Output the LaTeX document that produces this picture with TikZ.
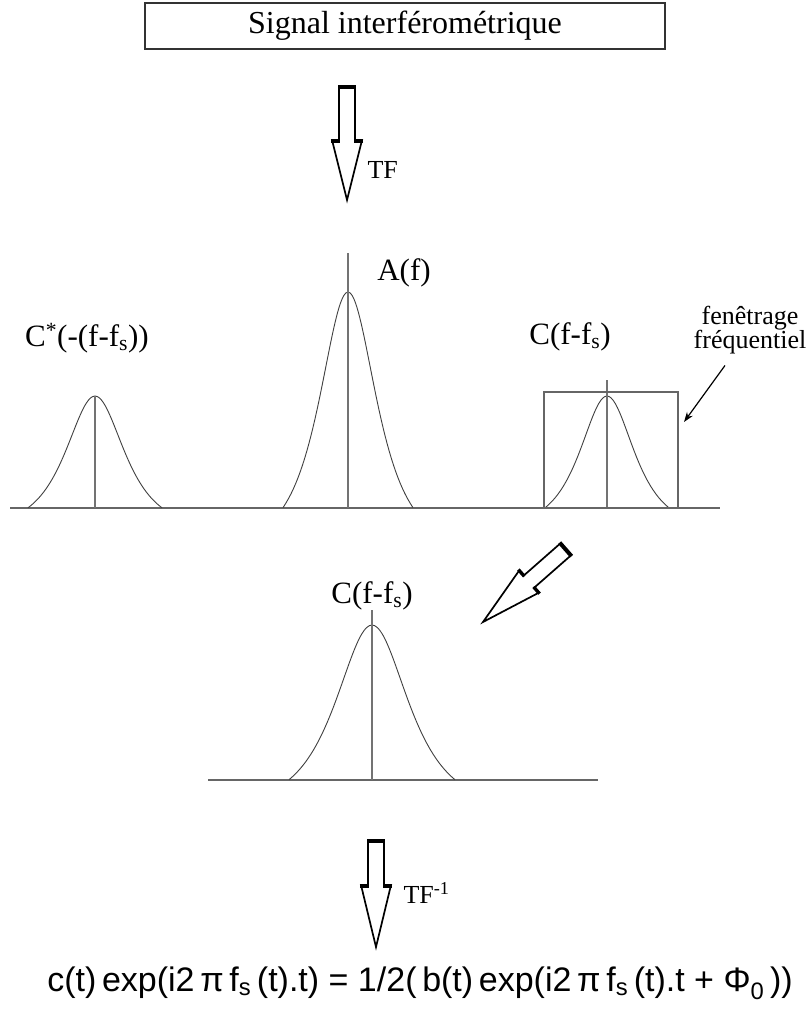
\documentclass[tikz,border=0pt]{standalone}
\usepackage{fontspec}
\setmainfont{Liberation Serif}
\newfontfamily\eqfont{Liberation Sans}
\usetikzlibrary{arrows.meta}

% one spectral line: centre, base, height, half width, top of the stem
\newcommand{\drawpeak}[5]{
    \draw[curve, shift={(#1,#2)}] plot[domain=-#4:#4, samples=61, smooth]
        (\x, {-#3*(1/cosh(2.6*\x/#4)-0.1462)/0.8538});
    \draw[stem] (#1,#2) -- (#1,#5);
}
\tikzset{x=1pt, y=-1pt,
    every node/.append style={font=\fontsize{31}{34}\selectfont},
    curve/.style={black!75, line width=0.9pt},
    stem/.style={black!55, line width=1.1pt},
    axis/.style={black!60, line width=1.3pt},
    pics/hollowarrow/.style 2 args={code={
        \draw[black, fill=white, line width=1.7pt, line join=miter]
            (-8,-#1) -- (8,-#1) -- (8,-#2) -- (15,-#2) -- (0,0)
            -- (-15,-#2) -- (-8,-#2) -- cycle;
        \draw[line width=4pt] (-9,-#1) -- (9,-#1);
        \draw[line width=3pt] (-16,{-#2+1}) -- (-7,{-#2+1});
        \draw[line width=3pt] (7,{-#2+1}) -- (16,{-#2+1});
    }}
}

\begin{document}
\begin{tikzpicture}
    \useasboundingbox (0,0) rectangle (810,1010);
    % signal
    \node[draw=black!80, line width=1.4pt, minimum width=520pt, minimum height=46pt,
        font=\fontsize{32}{36}\selectfont] (signal) at (405,26) {Signal interférométrique};
    \pic at (347,200) {hollowarrow={113}{60}};
    \node[right, font=\fontsize{26}{30}\selectfont] (tf) at (364,170) {TF};

    % spectre
    \draw[axis] (10,508) -- (720,508);
    \drawpeak{95}{508}{112}{67}{396}
    \drawpeak{348}{508}{216}{65}{253}
    \drawpeak{607}{508}{112}{62}{380}
    \draw[axis, line width=1.1pt] (544,392) rectangle (678,508);
    \node (conj) at (87,338) {C\textsuperscript{*}(-(f-f\textsubscript{s}))};
    \node (amp) at (404,273) {A(f)};
    \node (cross) at (570,337) {C(f-f\textsubscript{s})};
    \node[align=center, font=\fontsize{26}{24}\selectfont] (fen) at (750,330)
        {fenêtrage\\fréquentiel};
    \coordinate (hit) at (684,422);
    \draw[-{Stealth[length=10pt, width=7pt]}, line width=1.2pt]
        ([xshift=-25pt, yshift=-8pt]fen.south) -- (hit);

    % filtrage
    \pic[rotate=-48.7] at (483,622) {hollowarrow={110}{62}};
    \node (kept) at (372,596) {C(f-f\textsubscript{s})};
    \draw[axis] (208,780) -- (598,780);
    \drawpeak{372}{780}{155}{83}{610}

    % retour
    \pic at (376,947) {hollowarrow={106}{62}};
    \node[right, font=\fontsize{26}{30}\selectfont] (tfinv) at (400,893) {TF\textsuperscript{-1}};
    \node[font=\eqfont\fontsize{34}{38}\selectfont] (result) at (420,983)
        {c(t)\,exp(i2\,π\,f\textsubscript{s}\,(t).t)\;=\;1/2(\,b(t)\,exp(i2\,π\,f\textsubscript{s}\,(t).t\;+\;Φ\textsubscript{0}\,))};
\end{tikzpicture}
\end{document}
